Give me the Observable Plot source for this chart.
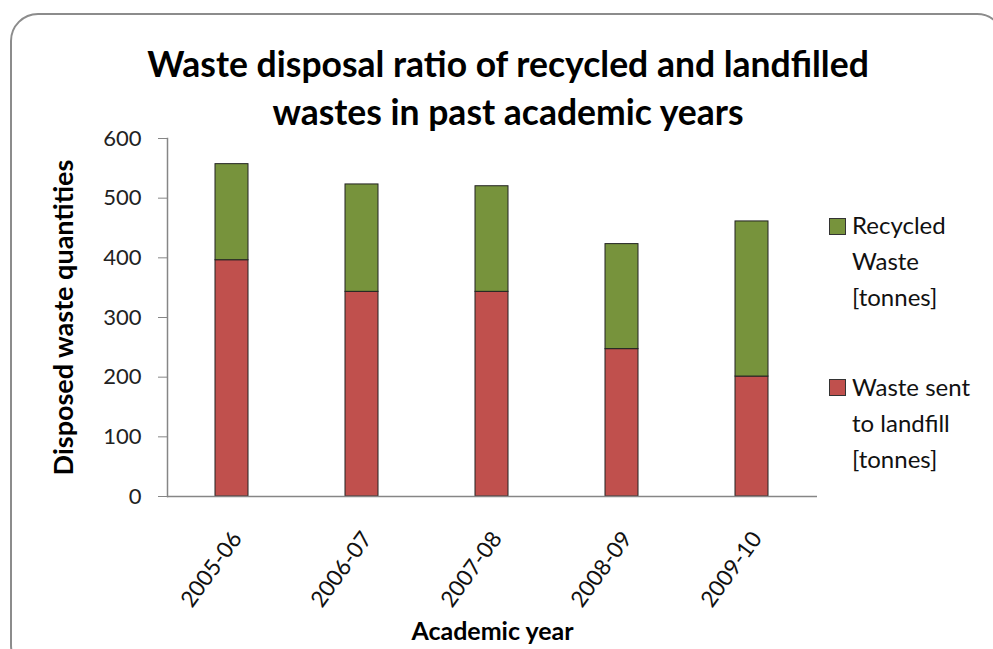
<!DOCTYPE html>
<html>
<head>
<meta charset="utf-8">
<script src="https://cdn.jsdelivr.net/npm/d3@7"></script>
<script src="https://cdn.jsdelivr.net/npm/@observablehq/plot@0.6"></script>
<style>
  html, body { margin: 0; padding: 0; background: #fff; }
  #wrap { position: relative; width: 993px; height: 649px; overflow: hidden; font-family: Lato, "Open Sans", sans-serif; color: #000; }
  #border { position: absolute; left: 10px; top: 13px; width: 995px; height: 660px; border: 2px solid #8c8c8c; border-radius: 28px; box-sizing: border-box; }
  #chart { position: absolute; left: 0; top: 0; }
  .title { position: absolute; left: 0; width: 1016px; text-align: center; font-weight: bold; font-size: 35.5px; line-height: 1; }
  .leg { position: absolute; left: 852px; font-size: 24px; line-height: 36px; color: #111; }
  .sw { position: absolute; left: 829px; width: 15px; height: 15px; border: 1px solid #333; }
</style>
</head>
<body>
<div id="wrap">
  <div id="border"></div>
  <div id="chart"></div>
  <div class="title" style="top:46px">Waste disposal ratio of recycled and landfilled</div>
  <div class="title" style="top:94px">wastes in past academic years</div>
</div>
<script>
const years = ["2005-06", "2006-07", "2007-08", "2008-09", "2009-10"];
const landfill = [396, 343, 343, 247, 201];
const recycled = [161, 180, 177, 176, 260];
const yTicks = [0, 100, 200, 300, 400, 500, 600];
const seriesNames = ["Waste sent to landfill [tonnes]", "Recycled Waste [tonnes]"];
const seriesColors = ["#C0504D", "#77933C"];
const legendLines = [["Recycled", "Waste", "[tonnes]"], ["Waste sent", "to landfill", "[tonnes]"]];

const data = years.flatMap((yr, i) => [
  {year: yr, series: seriesNames[0], value: landfill[i]},
  {year: yr, series: seriesNames[1], value: recycled[i]}
]);

const chart = Plot.plot({
  width: 993,
  height: 649,
  marginLeft: 167,
  marginRight: 176,
  marginTop: 138,
  marginBottom: 153,
  style: {fontFamily: "Lato, 'Open Sans', sans-serif", background: "transparent", overflow: "visible"},
  x: {domain: years, paddingInner: 0.746, paddingOuter: 0.373, label: null},
  y: {domain: [0, 600], label: null},
  color: {domain: seriesNames, range: seriesColors},
  marks: [
    Plot.barY(data, {x: "year", y: "value", fill: "series", stroke: "#222", strokeWidth: 1}),
    Plot.frame({anchor: "left", stroke: "#868686", strokeWidth: 1.5}),
    Plot.ruleY([0], {stroke: "#868686", strokeWidth: 1.5}),
    Plot.axisY({ticks: yTicks, tickSize: 9, tickPadding: 17, stroke: "#868686", fill: "#222", fontSize: 22, label: null}),
    Plot.axisX({tickSize: 0, tickPadding: 38, tickRotate: -54, fontSize: 22.5, fill: "#111", label: null, dx: 5}),
    Plot.text(["Disposed waste quantities"], {frameAnchor: "left", textAnchor: "middle", dx: -103, rotate: -90, fontSize: 27, fontWeight: "bold", fill: "#000"}),
    Plot.text(["Academic year"], {frameAnchor: "bottom", dy: 143, fontSize: 25, fontWeight: "bold", fill: "#000"})
  ]
});
document.getElementById("chart").appendChild(chart);

const wrap = document.getElementById("wrap");
const swatchTop = [218, 379];
const lineTop = [207, 369];
legendLines.forEach((lines, k) => {
  const sw = document.createElement("div");
  sw.className = "sw";
  sw.style.top = swatchTop[k] + "px";
  sw.style.background = seriesColors[k === 0 ? 1 : 0];
  wrap.appendChild(sw);
  const t = document.createElement("div");
  t.className = "leg";
  t.style.top = lineTop[k] + "px";
  t.innerHTML = lines.join("<br>");
  wrap.appendChild(t);
});
</script>
</body>
</html>
